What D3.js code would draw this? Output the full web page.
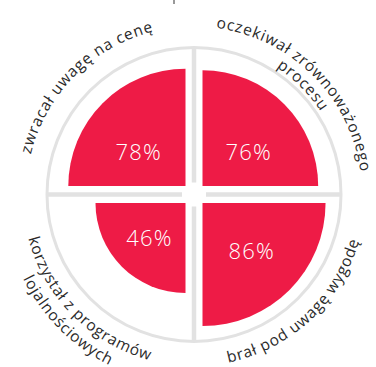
<!DOCTYPE html>
<html>
<head>
<meta charset="utf-8">
<script src="https://cdn.jsdelivr.net/npm/d3@7"></script>
<style>
  html, body { margin: 0; padding: 0; background: #fff; }
  svg { display: block; }
</style>
</head>
<body>
<svg id="chart" width="376" height="367"></svg>
<script>
// ---- data ----
const categories = [
  "zwracał uwagę na cenę",
  "oczekiwał zrównoważonego procesu",
  "brał pod uwagę wygodę",
  "korzystał z programów lojalnościowych"
];
const labelLines = [
  ["zwracał uwagę na cenę"],
  ["oczekiwał zrównoważonego", "procesu"],
  ["brał pod uwagę wygodę"],
  ["korzystał z programów", "lojalnościowych"]
];
const values = [78, 76, 86, 46];
const valueDomain = [0, 100];

// ---- layout ----
const W = 376, H = 367;
const cx = 194, cy = 194.5;
const R = 147;
const gap = 8.5;
const red = "#ee1b46";
const grey = "#e2e2e2";
const textColor = "#2a2a2a";

// quadrants: top-left, top-right, bottom-right, bottom-left
const quads = [
  { sx: -1, sy: -1, a0: 1.5 * Math.PI, a1: 2 * Math.PI, mid: -135 },
  { sx:  1, sy: -1, a0: 0,             a1: 0.5 * Math.PI, mid: -45 },
  { sx:  1, sy:  1, a0: 0.5 * Math.PI, a1: Math.PI,      mid: 47 },
  { sx: -1, sy:  1, a0: Math.PI,       a1: 1.5 * Math.PI, mid: 135 }
];

const svg = d3.select("#chart");

const rScale = d3.scaleSqrt().domain(valueDomain).range([0, 132.7]);

// small mark at the top edge (remnant of content above the chart)
svg.append("line")
  .attr("x1", 174).attr("y1", 0).attr("x2", 174).attr("y2", 4)
  .attr("stroke", "#555").attr("stroke-width", 1.2);

// outer circle
svg.append("circle")
  .attr("cx", cx).attr("cy", cy).attr("r", R)
  .attr("fill", "none").attr("stroke", grey).attr("stroke-width", 3);

// cross dividers
const inner = 12;
const seg = [
  [cx - R, cy, cx - inner, cy],
  [cx + inner, cy, cx + R, cy],
  [cx, cy - R, cx, cy - inner],
  [cx, cy + inner, cx, cy + R]
];
svg.selectAll("line.div").data(seg).join("line")
  .attr("class", "div")
  .attr("x1", d => d[0]).attr("y1", d => d[1])
  .attr("x2", d => d[2]).attr("y2", d => d[3])
  .attr("stroke", grey).attr("stroke-width", 4.5);

// wedges
const arc = d3.arc().innerRadius(0);
const g = svg.selectAll("g.wedge").data(values).join("g")
  .attr("class", "wedge")
  .attr("transform", (d, i) => `translate(${cx + quads[i].sx * gap},${cy + quads[i].sy * gap})`);

g.append("path")
  .attr("d", (d, i) => arc({ outerRadius: rScale(d), startAngle: quads[i].a0, endAngle: quads[i].a1 }))
  .attr("fill", red);

g.append("text")
  .attr("x", (d, i) => quads[i].sx * 0.40 * rScale(d))
  .attr("y", (d, i) => quads[i].sy * (quads[i].sy < 0 ? 0.30 : 0.38) * rScale(d))
  .attr("text-anchor", "middle")
  .attr("dominant-baseline", "central")
  .attr("font-family", "'Open Sans', sans-serif")
  .attr("font-weight", 300)
  .attr("font-size", 22)
  .attr("letter-spacing", 1.2)
  .attr("fill", "#fff")
  .text(d => d + "%");

// curved labels
const topR = 168, botR = 171.5, lineH = 16.5, lineHBot = 19;
const defs = svg.append("defs");
function arcPath(r, midDeg, spanDeg, clockwise) {
  const m = midDeg * Math.PI / 180, s = spanDeg * Math.PI / 180;
  const p0 = clockwise ? m - s : m + s;
  const p1 = clockwise ? m + s : m - s;
  const x0 = cx + r * Math.cos(p0), y0 = cy + r * Math.sin(p0);
  const x1 = cx + r * Math.cos(p1), y1 = cy + r * Math.sin(p1);
  return `M${x0},${y0} A${r},${r} 0 0 ${clockwise ? 1 : 0} ${x1},${y1}`;
}
labelLines.forEach((lines, i) => {
  const q = quads[i];
  const isTop = q.sy < 0;
  lines.forEach((line, j) => {
    const r = isTop ? topR - j * lineH : botR + j * lineHBot;
    const id = `lp${i}_${j}`;
    defs.append("path").attr("id", id).attr("d", arcPath(r, q.mid, 85, isTop));
    svg.append("text")
      .attr("font-family", "'Open Sans', sans-serif")
      .attr("font-weight", 400)
      .attr("font-size", 15.5)
      .attr("letter-spacing", 0.8)
      .attr("fill", textColor)
      .append("textPath")
      .attr("href", "#" + id)
      .attr("startOffset", "50%")
      .attr("text-anchor", "middle")
      .text(line);
  });
});
</script>
</body>
</html>
